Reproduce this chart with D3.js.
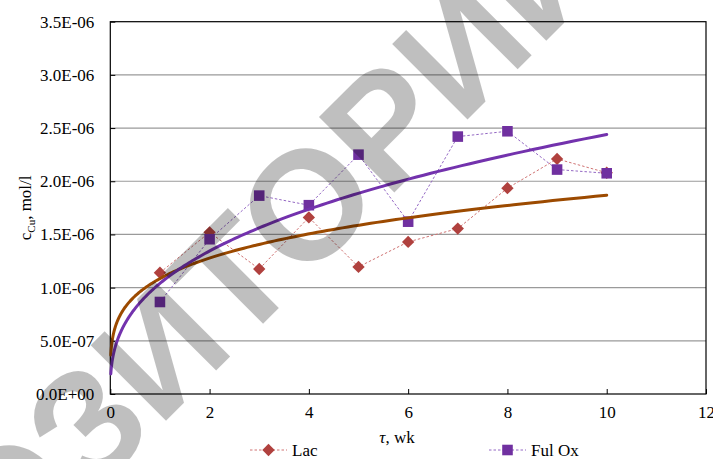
<!DOCTYPE html>
<html>
<head>
<meta charset="utf-8">
<script src="https://cdn.jsdelivr.net/npm/d3@7"></script>
<style>
  html, body { margin: 0; padding: 0; background: #fff; }
  svg { display: block; }
  text { font-family: "Liberation Serif", "Times New Roman", serif; fill: #000; }
</style>
</head>
<body>
<svg id="chart" width="713" height="459"></svg>
<script>
// Copper concentration over time for two treatments
const weeks = [1, 2, 3, 4, 5, 6, 7, 8, 9, 10];
const lac = [1.14e-6, 1.52e-6, 1.175e-6, 1.66e-6, 1.195e-6, 1.43e-6, 1.555e-6, 1.935e-6, 2.21e-6, 2.08e-6];
const fulOx = [0.865e-6, 1.455e-6, 1.865e-6, 1.775e-6, 2.25e-6, 1.62e-6, 2.42e-6, 2.47e-6, 2.11e-6, 2.075e-6];
const seriesNames = ["Lac", "Ful Ox"];
const xTicks = [0, 2, 4, 6, 8, 10, 12];
const yTicks = [0, 0.5e-6, 1.0e-6, 1.5e-6, 2.0e-6, 2.5e-6, 3.0e-6, 3.5e-6];
const watermark = "РЕПОЗИТОРИЙ";

const SERIF = '"Liberation Serif", "Times New Roman", serif';
const svg = d3.select("#chart");
const margin = { left: 110.3, top: 21.7, right: 7, bottom: 65 };
const W = 713, H = 459;
const x = d3.scaleLinear().domain([0, 12]).range([margin.left, W - margin.right]);
const y = d3.scaleLinear().domain([0, 3.5e-6]).range([H - margin.bottom, margin.top]);

// "3.5E-06" style labels
function sci(v) {
  const [m, e] = v.toExponential(1).toUpperCase().split("E");
  const n = parseInt(e, 10);
  return m + "E" + (n < 0 ? "-" : "+") + String(Math.abs(n)).padStart(2, "0");
}

// Horizontal gridlines
svg.append("g").selectAll("line")
  .data(yTicks.slice(1, -1))
  .join("line")
  .attr("x1", x(0)).attr("x2", x(12))
  .attr("y1", d => y(d)).attr("y2", d => y(d))
  .attr("stroke", "#9a9a9a").attr("stroke-width", 1.2);

// Plot frame
svg.append("rect")
  .attr("x", x(0)).attr("y", y(3.5e-6))
  .attr("width", x(12) - x(0)).attr("height", y(0) - y(3.5e-6))
  .attr("fill", "none").attr("stroke", "#000").attr("stroke-width", 1.2);

// Axes with inward ticks
const yAxis = d3.axisLeft(y).tickValues(yTicks).tickSize(-5).tickPadding(16).tickFormat(sci);
const gy = svg.append("g").attr("transform", `translate(${x(0)},0)`).call(yAxis);
gy.attr("font-family", null);
gy.select(".domain").remove();
gy.selectAll("text").style("font-size", "17px").style("font-family", SERIF);
gy.selectAll("line").attr("stroke", "#000");

const xAxis = d3.axisBottom(x).tickValues(xTicks).tickSize(-5).tickPadding(12).tickFormat(d3.format("d"));
const gx = svg.append("g").attr("transform", `translate(0,${y(0)})`).call(xAxis);
gx.attr("font-family", null);
gx.select(".domain").remove();
gx.selectAll("text").style("font-size", "17px").style("font-family", SERIF);
gx.selectAll("line").attr("stroke", "#000");

// Axis titles
const xt = svg.append("text").attr("x", 397).attr("y", 443)
  .attr("text-anchor", "middle").style("font-size", "17px");
xt.append("tspan").attr("font-style", "italic").text("τ");
xt.append("tspan").text(", wk");

const yt = svg.append("text")
  .attr("transform", `translate(31,${(y(0) + y(3.5e-6)) / 2}) rotate(-90)`)
  .attr("text-anchor", "middle").style("font-size", "17px");
yt.append("tspan").text("c");
yt.append("tspan").style("font-size", "11px").attr("dy", 4).text("Cu");
yt.append("tspan").attr("dy", -4).text(", mol/l");

// Series styles
const diamond = { draw(ctx, size) { const r = Math.sqrt(size / 2); ctx.moveTo(0, -r); ctx.lineTo(r, 0); ctx.lineTo(0, r); ctx.lineTo(-r, 0); ctx.closePath(); } };
const styles = [
  { values: lac, marker: diamond, markerSize: 76, fill: "#b0413e", line: "#d07474", trend: "#9c4a00" },
  { values: fulOx, marker: d3.symbolSquare, markerSize: 112, fill: "#7030a0", line: "#9468c4", trend: "#7332ad" }
];

// Least-squares power fit y = a * x^b
function powerFit(xs, ys) {
  const lx = xs.map(Math.log), ly = ys.map(Math.log);
  const mx = d3.mean(lx), my = d3.mean(ly);
  const b = d3.sum(lx, (v, i) => (v - mx) * (ly[i] - my)) / d3.sum(lx, v => (v - mx) * (v - mx));
  const a = Math.exp(my - b * mx);
  return t => a * Math.pow(t, b);
}

const line = d3.line().x(d => x(d[0])).y(d => y(d[1]));

styles.forEach(s => {
  const pts = weeks.map((w, i) => [w, s.values[i]]);
  svg.append("path").datum(pts).attr("d", line)
    .attr("fill", "none").attr("stroke", s.line).attr("stroke-width", 1)
    .attr("stroke-dasharray", "2.5,2");
  svg.append("g").selectAll("path").data(pts).join("path")
    .attr("transform", d => `translate(${x(d[0])},${y(d[1])})`)
    .attr("d", d3.symbol().type(s.marker).size(s.markerSize))
    .attr("fill", s.fill);
});

// Power trendlines
styles.forEach(s => {
  const f = powerFit(weeks, s.values);
  const ts = d3.range(0, 301).map(i => 0.01 * Math.pow(1000, i / 300));
  svg.append("path").datum(ts.map(t => [t, f(t)])).attr("d", line)
    .attr("fill", "none").attr("stroke", s.trend).attr("stroke-width", 3)
    .attr("stroke-linecap", "round");
});

// Legend
const legendItems = [
  { name: seriesNames[0], x0: 250, s: styles[0] },
  { name: seriesNames[1], x0: 489, s: styles[1] }
];
legendItems.forEach(it => {
  const g = svg.append("g").attr("transform", `translate(${it.x0},450)`);
  g.append("line").attr("x1", 0).attr("x2", 37).attr("y1", 0).attr("y2", 0)
    .attr("stroke", it.s.line).attr("stroke-width", 1).attr("stroke-dasharray", "2.5,2");
  g.append("path").attr("transform", "translate(18.5,0)")
    .attr("d", d3.symbol().type(it.s.marker).size(it.s.markerSize)).attr("fill", it.s.fill);
  g.append("text").attr("x", 42).attr("y", 6).style("font-size", "17px").text(it.name);
});

// Watermark
const fs = 155;
const wm = svg.append("g");
const wt = wm.append("text")
  .attr("x", 0).attr("y", 0)
  .style("font-family", '"Liberation Sans", Arial, sans-serif')
  .style("font-weight", "bold")
  .style("font-size", fs + "px")
  .style("fill", "#000").style("fill-opacity", 0.25)
  .text(watermark);
const oBox = wt.node().getExtentOfChar(7);
const ocx = oBox.x + oBox.width / 2, ocy = -0.36 * fs;
wm.attr("transform", `translate(305,203) rotate(-45) translate(${-ocx},${-ocy})`);
</script>
</body>
</html>
